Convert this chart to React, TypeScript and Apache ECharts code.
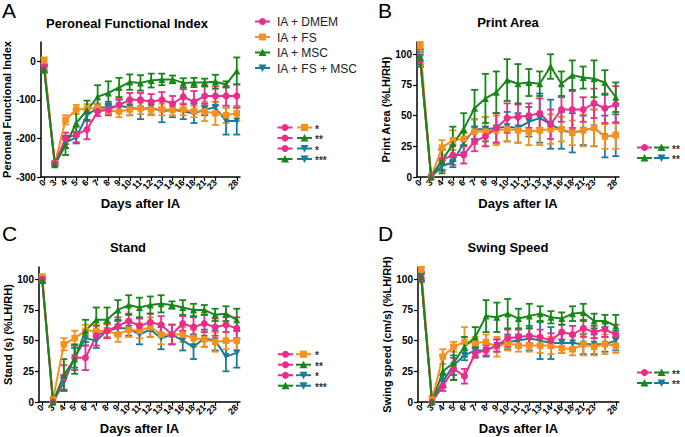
import React, { useEffect, useRef } from "react";
import * as echarts from "echarts";

const days = ["0", "3", "4", "5", "6", "7", "8", "9", "10", "11", "12", "13", "14", "16", "18", "21", "23", "25", "28"];
const groupNames = ["IA + DMEM", "IA + FS", "IA + MSC", "IA + FS + MSC"];

// Panel A – Peroneal Functional Index
const pfiDmem = [-15, -265, -200, -190, -177, -130, -125, -113, -100, -100, -105, -100, -110, -92, -105, -90, -90, -90, -90];
const pfiDmemErr = [8, 4, 15, 20, 25, 12, 15, 15, 18, 18, 20, 20, 20, 20, 28, 25, 25, 25, 30];
const pfiFs = [0, -265, -152, -125, -123, -120, -128, -130, -125, -122, -125, -125, -125, -125, -130, -130, -135, -140, -135];
const pfiFsErr = [10, 4, 12, 12, 12, 10, 12, 15, 15, 15, 15, 15, 15, 15, 15, 25, 30, 20, 20];
const pfiMsc = [-20, -268, -218, -160, -127, -92, -82, -68, -54, -56, -50, -47, -47, -56, -55, -55, -53, -60, -25];
const pfiMscErr = [10, 4, 25, 35, 25, 30, 30, 25, 20, 20, 18, 15, 10, 12, 12, 10, 18, 8, 35];
const pfiFsMsc = [-20, -265, -210, -198, -140, -120, -120, -115, -120, -125, -120, -130, -125, -130, -135, -125, -120, -155, -155];
const pfiFsMscErr = [8, 4, 15, 15, 15, 10, 15, 15, 20, 25, 18, 28, 20, 20, 25, 15, 15, 35, 35];

// Panel B – Print Area
const paDmem = [95, 0, 14, 18, 18, 29, 33, 40, 48, 49, 50, 52, 43, 55, 55, 55, 60, 56, 59];
const paDmemErr = [5, 0, 8, 8, 7, 8, 8, 12, 12, 10, 10, 12, 12, 10, 15, 10, 12, 12, 15];
const paFs = [107, 0, 24, 30, 31, 37, 37, 38, 39, 38, 37, 38, 39, 39, 36, 38, 40, 33, 34];
const paFsErr = [3, 0, 6, 8, 6, 10, 12, 12, 10, 10, 11, 12, 12, 10, 10, 13, 15, 10, 11];
const paMsc = [97, 0, 13, 27, 39, 56, 64, 69, 79, 76, 77, 76, 90, 76, 83, 81, 80, 77, 65];
const paMscErr = [7, 0, 10, 14, 13, 15, 20, 17, 17, 16, 11, 10, 10, 10, 12, 9, 15, 10, 12];
const paFsMsc = [97, 0, 9, 12, 28, 39, 39, 40, 41, 40, 45, 48, 43, 38, 36, 38, 40, 33, 34];
const paFsMscErr = [5, 0, 4, 4, 8, 8, 10, 12, 12, 12, 12, 20, 20, 15, 16, 12, 15, 17, 17];

// Panel C – Stand
const stDmem = [100, 0, 20, 36, 36, 54, 58, 62, 66, 62, 65, 63, 55, 64, 61, 64, 61, 63, 60];
const stDmemErr = [2, 0, 10, 10, 10, 8, 6, 7, 6, 6, 7, 7, 8, 6, 8, 7, 7, 6, 9];
const stFs = [102, 2, 47, 52, 58, 58, 58, 55, 59, 58, 61, 55, 55, 55, 52, 51, 49, 50, 50];
const stFsErr = [2, 2, 5, 6, 5, 5, 5, 6, 6, 6, 8, 8, 8, 6, 7, 6, 8, 7, 8];
const stMsc = [99, 0, 22, 35, 58, 67, 67, 75, 79, 77, 79, 80, 79, 77, 75, 75, 71, 72, 67];
const stMscErr = [2, 0, 13, 12, 9, 10, 10, 8, 8, 8, 7, 7, 3, 6, 5, 4, 5, 6, 9];
const stFsMsc = [99, 0, 16, 36, 52, 50, 58, 60, 60, 55, 59, 52, 55, 50, 45, 52, 50, 37, 40];
const stFsMscErr = [2, 0, 6, 8, 6, 6, 6, 6, 6, 8, 6, 9, 8, 8, 10, 7, 8, 12, 12];

// Panel D – Swing Speed
const ssDmem = [101, 0, 13, 27, 21, 40, 42, 46, 52, 53, 54, 53, 50, 57, 55, 60, 57, 59, 55];
const ssDmemErr = [3, 0, 4, 9, 6, 4, 4, 5, 7, 6, 6, 6, 6, 6, 7, 7, 5, 6, 8];
const ssFs = [108, 2, 37, 45, 49, 48, 49, 45, 48, 46, 46, 46, 46, 44, 43, 47, 45, 47, 46];
const ssFsErr = [2, 3, 6, 4, 12, 5, 6, 8, 6, 5, 5, 6, 7, 4, 5, 9, 7, 8, 6];
const ssMsc = [102, 0, 25, 32, 45, 53, 70, 69, 72, 68, 70, 72, 69, 68, 72, 73, 66, 66, 62];
const ssMscErr = [4, 0, 13, 14, 8, 8, 13, 12, 12, 8, 10, 6, 5, 5, 6, 7, 6, 5, 9];
const ssFsMsc = [102, 0, 17, 30, 38, 42, 42, 46, 49, 50, 52, 50, 48, 48, 48, 47, 47, 47, 50];
const ssFsMscErr = [3, 0, 5, 8, 4, 5, 5, 5, 6, 5, 10, 15, 13, 8, 6, 8, 8, 6, 8];

const yTicksA = [-300, -200, -100, 0];
const yTicksPct = [0, 25, 50, 75, 100];

const FONT = '"Liberation Sans", Arial, Helvetica, sans-serif';
const PINK = "#ea2c8b";
const ORANGE = "#f7901e";
const GREEN = "#17871a";
const TEAL = "#1a7c9b";
const colors = [PINK, ORANGE, GREEN, TEAL];
const symbols = ["circle", "rect", "triangle", "triangle"];
const rotations = [0, 0, 0, 180];

type Panel = {
  title: string;
  yName: string;
  min: number;
  max: number;
  ticks: number[];
  values: number[][];
  errs: number[][];
  grid: { left: number; top: number; width: number; height: number };
};

const panels: Panel[] = [
  {
    title: "Peroneal Functional Index",
    yName: "Peroneal Functional Index",
    min: -300,
    max: 50,
    ticks: yTicksA,
    values: [pfiDmem, pfiFs, pfiMsc, pfiFsMsc],
    errs: [pfiDmemErr, pfiFsErr, pfiMscErr, pfiFsMscErr],
    grid: { left: 39, top: 42, width: 201, height: 135 },
  },
  {
    title: "Print Area",
    yName: "Print Area (%LH/RH)",
    min: 0,
    max: 110,
    ticks: yTicksPct,
    values: [paDmem, paFs, paMsc, paFsMsc],
    errs: [paDmemErr, paFsErr, paMscErr, paFsMscErr],
    grid: { left: 417, top: 42, width: 202, height: 135 },
  },
  {
    title: "Stand",
    yName: "Stand (s) (%LH/RH)",
    min: 0,
    max: 110,
    ticks: yTicksPct,
    values: [stDmem, stFs, stMsc, stFsMsc],
    errs: [stDmemErr, stFsErr, stMscErr, stFsMscErr],
    grid: { left: 39, top: 267, width: 201, height: 135 },
  },
  {
    title: "Swing Speed",
    yName: "Swing speed (cm/s) (%LH/RH)",
    min: 0,
    max: 110,
    ticks: yTicksPct,
    values: [ssDmem, ssFs, ssMsc, ssFsMsc],
    errs: [ssDmemErr, ssFsErr, ssMscErr, ssFsMscErr],
    grid: { left: 418, top: 267, width: 201, height: 135 },
  },
];

const idx = days.map((_, i) => i);

function markerShape(kind: number, cx: number, cy: number) {
  const c = colors[kind];
  const s = 3.5;
  if (kind === 0) return { type: "circle", shape: { cx, cy, r: s }, style: { fill: c } };
  if (kind === 1) return { type: "rect", shape: { x: cx - s, y: cy - s, width: 2 * s, height: 2 * s }, style: { fill: c } };
  if (kind === 2)
    return { type: "polygon", shape: { points: [[cx, cy - s - 0.5], [cx + s + 0.5, cy + s], [cx - s - 0.5, cy + s]] }, style: { fill: c } };
  return { type: "polygon", shape: { points: [[cx, cy + s + 0.5], [cx + s + 0.5, cy - s], [cx - s - 0.5, cy - s]] }, style: { fill: c } };
}

function legendMarker(kind: number, x1: number, x2: number, cy: number) {
  return [
    { type: "line", shape: { x1, y1: cy, x2, y2: cy }, style: { stroke: colors[kind], lineWidth: 2 } },
    markerShape(kind, (x1 + x2) / 2, cy),
  ];
}

function sigRows(rows: [number, number, string][], ys: number[], c1: number, c2: number, sx: number) {
  const out: any[] = [];
  rows.forEach((r, i) => {
    out.push(...legendMarker(r[0], c1 - 7.5, c1 + 7.5, ys[i]));
    out.push(...legendMarker(r[1], c2 - 7.5, c2 + 7.5, ys[i]));
    out.push({
      type: "text",
      x: sx,
      y: ys[i] + 1.5,
      style: { text: r[2], fill: "#333", font: `bold 10px ${FONT}`, textVerticalAlign: "middle" },
    });
  });
  return out;
}

export default function App() {
  const ref = useRef<HTMLDivElement>(null);
  useEffect(() => {
    if (!ref.current) return;
    const chart = echarts.init(ref.current, undefined, { renderer: "svg" });

    const grid = panels.map((p) => ({ ...p.grid, containLabel: false }));
    const xAxis = panels.map((p, gi) => ({
      type: "value",
      gridIndex: gi,
      min: -0.3,
      max: 18.3,
      splitLine: { show: false },
      axisLine: { show: true, onZero: false, lineStyle: { color: "#000", width: 1.5 } },
      axisTick: { show: true, length: 4, customValues: idx, lineStyle: { color: "#000", width: 1.2 } },
      axisLabel: {
        customValues: idx,
        formatter: (v: number) => days[Math.round(v)] ?? "",
        rotate: 45,
        fontSize: 9,
        fontWeight: "bold",
        color: "#000",
        margin: 4,
        fontFamily: FONT,
        showMinLabel: true,
        showMaxLabel: true,
        hideOverlap: false,
      },
      name: "Days after IA",
      nameLocation: "middle",
      nameGap: 20,
      nameTextStyle: { fontSize: 13, fontWeight: "bold", color: "#000", fontFamily: FONT, verticalAlign: "top" },
    }));
    const yAxis = panels.map((p, gi) => ({
      type: "value",
      gridIndex: gi,
      min: p.min,
      max: p.max,
      splitLine: { show: false },
      axisLine: { show: true, onZero: false, lineStyle: { color: "#000", width: 1.5 } },
      axisTick: { show: true, length: 4, customValues: p.ticks, lineStyle: { color: "#000", width: 1.2 } },
      axisLabel: {
        customValues: p.ticks,
        fontSize: 10,
        fontWeight: "bold",
        color: "#000",
        margin: 5,
        fontFamily: FONT,
      },
      name: p.yName,
      nameLocation: "middle",
      nameGap: 26,
      nameTextStyle: { fontSize: 11, fontWeight: "bold", color: "#000", fontFamily: FONT },
    }));

    const order = [3, 1, 0, 2];
    const series: any[] = [];
    panels.forEach((p, gi) => {
      order.forEach((k) => {
        const color = colors[k];
        const vals = p.values[k];
        const errs = p.errs[k];
        series.push({
          type: "custom",
          name: groupNames[k],
          xAxisIndex: gi,
          yAxisIndex: gi,
          encode: { x: 0, y: [1, 2] },
          data: vals.map((v, i) => [i, v - errs[i], v + errs[i]]),
          renderItem: (params: any, api: any) => {
            const x = api.value(0);
            const lo = api.coord([x, api.value(1)]);
            const hi = api.coord([x, api.value(2)]);
            const w = 3.5;
            const style = { stroke: color, lineWidth: 1.8 };
            return {
              type: "group",
              children: [
                { type: "line", shape: { x1: lo[0], y1: lo[1], x2: hi[0], y2: hi[1] }, style },
                { type: "line", shape: { x1: lo[0] - w, y1: lo[1], x2: lo[0] + w, y2: lo[1] }, style },
                { type: "line", shape: { x1: hi[0] - w, y1: hi[1], x2: hi[0] + w, y2: hi[1] }, style },
              ],
            };
          },
          silent: true,
        });
        series.push({
          type: "line",
          name: groupNames[k],
          xAxisIndex: gi,
          yAxisIndex: gi,
          data: vals.map((v, i) => [i, v]),
          symbol: symbols[k],
          symbolRotate: rotations[k],
          symbolSize: k === 1 ? 6.5 : 7,
          lineStyle: { color, width: 2 },
          itemStyle: { color },
          silent: true,
        });
      });
    });

    const graphic: any[] = [
      { type: "text", x: 2, y: 10, style: { text: "A", font: `21px ${FONT}`, fill: "#000", textVerticalAlign: "middle" } },
      { type: "text", x: 378, y: 10, style: { text: "B", font: `21px ${FONT}`, fill: "#000", textVerticalAlign: "middle" } },
      { type: "text", x: 2, y: 233, style: { text: "C", font: `21px ${FONT}`, fill: "#000", textVerticalAlign: "middle" } },
      { type: "text", x: 378, y: 233, style: { text: "D", font: `21px ${FONT}`, fill: "#000", textVerticalAlign: "middle" } },
      { type: "text", x: 127, y: 23, style: { text: panels[0].title, font: `bold 13px ${FONT}`, fill: "#000", textAlign: "center", textVerticalAlign: "middle" } },
      { type: "text", x: 508, y: 22, style: { text: panels[1].title, font: `bold 13px ${FONT}`, fill: "#000", textAlign: "center", textVerticalAlign: "middle" } },
      { type: "text", x: 128, y: 247, style: { text: panels[2].title, font: `bold 13px ${FONT}`, fill: "#000", textAlign: "center", textVerticalAlign: "middle" } },
      { type: "text", x: 508, y: 247, style: { text: panels[3].title, font: `bold 13px ${FONT}`, fill: "#000", textAlign: "center", textVerticalAlign: "middle" } },
    ];
    const legYs = [21.5, 37, 52.5, 68];
    groupNames.forEach((n, k) => {
      graphic.push(...legendMarker(k, 255, 270, legYs[k]));
      graphic.push({
        type: "text",
        x: 277,
        y: legYs[k] + 0.5,
        style: { text: n, font: `12px ${FONT}`, fill: "#222", textVerticalAlign: "middle" },
      });
    });
    const sig4: [number, number, string][] = [
      [0, 1, "*"],
      [0, 2, "**"],
      [0, 3, "*"],
      [2, 3, "***"],
    ];
    const sig2: [number, number, string][] = [
      [0, 2, "**"],
      [2, 3, "**"],
    ];
    graphic.push(...sigRows(sig4, [127.5, 138, 148.5, 159], 285, 304.5, 315));
    graphic.push(...sigRows(sig2, [147.5, 158], 644.5, 661.5, 672));
    graphic.push(...sigRows(sig4, [354.2, 364.7, 375.2, 385.7], 285.5, 303.5, 315));
    graphic.push(...sigRows(sig2, [372.5, 383], 644.5, 661.5, 672));

    chart.setOption({
      animation: false,
      backgroundColor: "#fff",
      textStyle: { fontFamily: FONT },
      grid,
      xAxis,
      yAxis,
      series,
      graphic,
    });
    return () => chart.dispose();
  }, []);
  return <div ref={ref} style={{ position: "absolute", left: 0, top: 0, width: 685, height: 437 }} />;
}
